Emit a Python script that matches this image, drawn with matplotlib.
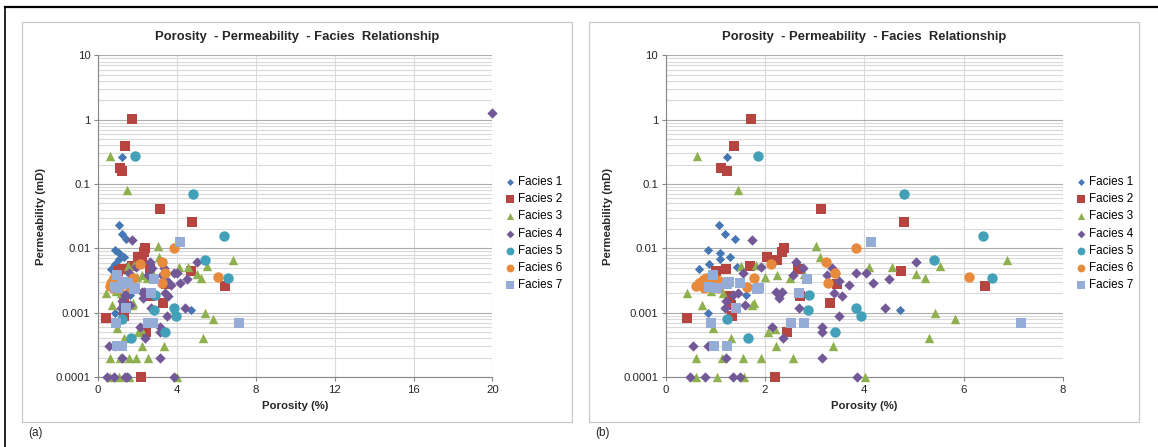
import numpy as np
import matplotlib
matplotlib.use('Agg')
import matplotlib.pyplot as plt
from matplotlib.ticker import LogLocator, FixedLocator, FuncFormatter, NullFormatter
from matplotlib.patches import Rectangle
from matplotlib.lines import Line2D

plt.rcParams['font.family'] = ['Liberation Sans', 'DejaVu Sans']

# porosity (%) and permeability (mD) per facies
x1 = [1.24, 1.07, 1.20, 1.40, 0.86, 1.09, 1.09, 1.30, 0.87, 0.68, 1.43, 0.86, 4.71, 1.62]
y1 = [0.26, 0.023, 0.0165, 0.014, 0.0094, 0.0084, 0.0068, 0.0072, 0.0058, 0.0048, 0.0052, 0.0010, 0.0011, 0.0019]

x2 = [1.72, 1.38, 1.11, 1.24, 3.13, 4.79, 2.03, 2.24, 2.34, 2.39, 1.70, 1.21, 1.01, 4.73, 6.43,
      0.43, 3.31, 2.44, 2.20, 2.70, 3.44, 1.33, 1.32, 1.30, 2.66]
y2 = [1.03, 0.39, 0.18, 0.16, 0.041, 0.026, 0.0072, 0.0067, 0.0087, 0.0101, 0.0054, 0.0047, 0.0044, 0.0044, 0.0026,
      0.00082, 0.0014, 0.0005, 0.0001, 0.0018, 0.0028, 0.0009, 0.0013, 0.0018, 0.0048]

x3 = [0.63, 1.45, 3.02, 3.11, 6.87, 4.09, 4.55, 5.52, 5.03, 5.22, 5.43, 5.82, 5.31, 0.42, 0.73,
      0.96, 1.31, 0.61, 1.14, 1.56, 1.91, 2.56, 2.22, 3.37, 2.05, 2.20, 0.62, 1.04, 1.58, 4.02,
      1.52, 1.82, 2.00, 2.24, 2.50, 2.78, 1.16, 1.73, 1.78, 0.92]
y3 = [0.27, 0.08, 0.011, 0.0074, 0.0067, 0.0052, 0.0052, 0.0054, 0.0040, 0.0034, 0.0010, 0.0008, 0.0004, 0.0020, 0.0013,
      0.00057, 0.0004, 0.0002, 0.0002, 0.0002, 0.0002, 0.0002, 0.0003, 0.0003, 0.0005, 0.00056, 0.0001, 0.0001, 0.0001, 0.0001,
      0.0054, 0.0056, 0.0036, 0.0038, 0.0034, 0.0040, 0.0020, 0.0013, 0.0014, 0.0022]

x4 = [20.0, 1.73, 2.62, 2.76, 1.92, 5.03, 3.83, 4.03, 4.18, 4.50, 3.70, 3.54, 3.39, 3.48, 4.42,
      3.14, 3.15, 2.36, 2.14, 0.54, 0.86, 1.21, 3.15, 0.48, 0.79, 1.36, 1.49, 3.86, 2.22, 2.35,
      2.28, 2.69, 2.56, 3.34, 3.48, 3.24, 1.36, 1.46, 1.21, 1.19, 1.60, 1.55]
y4 = [1.25, 0.0135, 0.0062, 0.0049, 0.0052, 0.0062, 0.0041, 0.0042, 0.0029, 0.0033, 0.0027, 0.0018, 0.0020, 0.0009, 0.0012,
      0.0006, 0.0005, 0.0004, 0.0006, 0.0003, 0.0003, 0.0002, 0.0002, 0.0001, 0.0001, 0.0001, 0.0001, 0.0001, 0.0021, 0.0021,
      0.0017, 0.0012, 0.0039, 0.0049, 0.0031, 0.0038, 0.0019, 0.0020, 0.0015, 0.0012, 0.0013, 0.0041]

x5 = [1.86, 4.80, 6.38, 5.41, 6.58, 2.88, 2.86, 3.84, 3.94, 1.24, 1.66, 3.40]
y5 = [0.27, 0.069, 0.0157, 0.0067, 0.0035, 0.0019, 0.0011, 0.0012, 0.0009, 0.0008, 0.0004, 0.0005]

x6 = [3.84, 3.23, 3.40, 3.27, 6.10, 2.12, 1.78, 1.63, 0.62, 0.68, 0.75, 0.82, 0.90, 1.00, 1.08, 0.78, 1.05, 1.22]
y6 = [0.0101, 0.0062, 0.0041, 0.0029, 0.0036, 0.0058, 0.0034, 0.0025, 0.0026, 0.0029, 0.0032, 0.0035, 0.0036, 0.0033,
      0.0031, 0.0024, 0.0024, 0.0030]

x7 = [4.14, 2.85, 2.68, 2.79, 2.52, 0.91, 7.16, 0.98, 1.24, 1.42, 0.96, 0.87, 1.03, 1.24, 1.28, 1.50, 1.83, 1.87]
y7 = [0.0127, 0.0033, 0.0020, 0.0007, 0.0007, 0.0007, 0.0007, 0.0003, 0.0003, 0.0012, 0.0038, 0.0025, 0.0024, 0.0028,
      0.0030, 0.0029, 0.0023, 0.0024]

xs_all = [x1, x2, x3, x4, x5, x6, x7]
ys_all = [y1, y2, y3, y4, y5, y6, y7]
labels = ['Facies 1', 'Facies 2', 'Facies 3', 'Facies 4', 'Facies 5', 'Facies 6', 'Facies 7']
colors = ['#4477B3', '#B64542', '#8FB04F', '#735897', '#42A0B8', '#E88A3C', '#95ACD6']
markers = ['D', 's', '^', 'D', 'o', 'o', 's']
sizes = [22, 56, 46, 28, 56, 56, 56]

title = 'Porosity  - Permeability  - Facies  Relationship'

W, H = 1158, 447
fig = plt.figure(figsize=(W / 100, H / 100), dpi=100)


def draw_panel(left_px, right_px, xmax, xstep, box, tag):
    top_px, bot_px = 55.3, 377.0
    ax = fig.add_axes([left_px / W, 1 - bot_px / H, (right_px - left_px) / W, (bot_px - top_px) / H])
    for xs, ys, lab, c, m, s in zip(xs_all, ys_all, labels, colors, markers, sizes):
        xs = np.array(xs)
        ys = np.array(ys)
        keep = xs <= xmax
        ax.scatter(xs[keep], ys[keep], s=s, marker=m, color=c, linewidths=0,
                   label=lab, clip_on=False, zorder=3)
    ax.set_yscale('log')
    ax.set_ylim(1e-4, 10)
    ax.set_xlim(0, xmax)
    ax.xaxis.set_major_locator(FixedLocator(np.arange(0, xmax + 0.1, xstep)))
    ax.xaxis.set_major_formatter(FuncFormatter(lambda v, p: '%d' % v))
    ax.yaxis.set_major_locator(LogLocator(base=10, numticks=10))
    ax.yaxis.set_minor_locator(LogLocator(base=10, subs=np.arange(2, 10), numticks=20))
    ax.yaxis.set_major_formatter(FuncFormatter(lambda v, p: format(v, 'g')))
    ax.yaxis.set_minor_formatter(NullFormatter())
    ax.set_axisbelow(True)
    ax.grid(which='major', axis='y', color='#ADADAD', lw=0.8)
    ax.grid(which='minor', axis='y', color='#D9D9D9', lw=0.8)
    ax.grid(which='major', axis='x', color='#D9D9D9', lw=0.8)
    for sp in ['top', 'right']:
        ax.spines[sp].set_visible(False)
    for sp in ['left', 'bottom']:
        ax.spines[sp].set_color('#868686')
        ax.spines[sp].set_linewidth(0.8)
    ax.tick_params(which='major', length=3, width=0.8, color='#868686', labelsize=8.2,
                   labelcolor='#262626', pad=2.5)
    ax.tick_params(which='minor', length=0)
    ax.set_xlabel('Porosity (%)', fontsize=8.2, fontweight='bold', color='#262626')
    ax.set_ylabel('Permeability (mD)', fontsize=8.2, fontweight='bold', color='#262626')
    ax.xaxis.label.set_va('center')
    ax.yaxis.label.set_va('center')
    ax.xaxis.set_label_coords(0.5, (bot_px - 406) / (bot_px - top_px))
    ax.yaxis.set_label_coords((box[0] + 19 - left_px) / (right_px - left_px), 0.5)

    leg_left = (right_px + 13 - left_px) / (right_px - left_px)
    ax.legend(loc='center left', bbox_to_anchor=(leg_left, (bot_px - 233.7) / (bot_px - top_px)),
              frameon=False, fontsize=8.4, handlelength=0.8, handletextpad=0.3,
              labelspacing=0.45, borderpad=0, borderaxespad=0, markerscale=0.75, scatterpoints=1)

    # chart box and texts
    fig.add_artist(Rectangle((box[0] / W, 1 - 422 / H), (box[1] - box[0]) / W, 400 / H,
                             transform=fig.transFigure, fill=False, ec='#C8C8C8', lw=0.9))
    fig.text((box[0] + box[1]) / 2 / W, 1 - 37 / H, title, ha='center', va='center',
             fontsize=9.4, fontweight='bold', color='#262626')
    fig.text((box[0] + 6) / W, 1 - 433 / H, tag, ha='left', va='center', fontsize=8.5, color='#262626')
    return ax


ax_a = draw_panel(98, 492.4, 20, 4, (22, 572), '(a)')
ax_b = draw_panel(665.7, 1063, 8, 2, (589, 1138.5), '(b)')

# outer frame lines
fig.add_artist(Line2D([5 / W, 1], [1 - 7 / H, 1 - 7 / H], transform=fig.transFigure, color='black', lw=1.6))
fig.add_artist(Line2D([5 / W, 5 / W], [0, 1 - 7 / H], transform=fig.transFigure, color='black', lw=1.2))

fig.savefig('out.png', dpi=100)
